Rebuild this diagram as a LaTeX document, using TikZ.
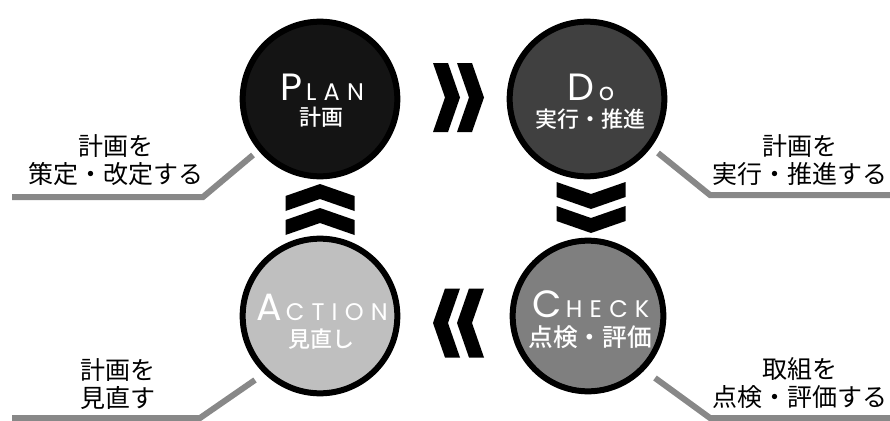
\documentclass[tikz,border=0pt]{standalone}
\usepackage{fontspec}
\setmainfont{Poppins}
\newfontfamily\jp{Noto Sans CJK JP}
\newfontfamily\jpm{Noto Sans CJK JP Medium}
\definecolor{cplan}{HTML}{141414}
\definecolor{cdo}{HTML}{404040}
\definecolor{ccheck}{HTML}{7F7F7F}
\definecolor{caction}{HTML}{BFBFBF}
\definecolor{lgray}{HTML}{888888}
\newcommand{\capword}[2]{{\fontsize{28.5}{30}\selectfont #1}\hspace{3pt}{\fontsize{18}{20}\selectfont\addfontfeature{LetterSpace=30}#2}}
\tikzset{
  ring/.style={circle, draw=black, line width=4.5pt, minimum size=116pt, inner sep=0pt},
  latin/.style={text=white, anchor=base, inner sep=0pt},
  jptxt/.style={text=white, font=\jpm\fontsize{16.5}{18}\selectfont, inner sep=0pt, text height=0.8em, text depth=0.05em},
  label/.style={font=\jp\fontsize{18.75}{21}\selectfont, align=center, inner sep=0pt, text=black},
  leader/.style={draw=lgray, line width=4.5pt},
  chev/.pic={\fill[black] (-13.5,-34.5) -- (1.5,-34.5) -- (13.5,0) -- (1.5,34.5) -- (-13.5,34.5) -- (-1.5,0) -- cycle;}
}
\begin{document}
\begin{tikzpicture}[x=0.75pt,y=-0.75pt]
\useasboundingbox[fill=white] (0,0) rectangle (890,421);
% circles
\node[ring, fill=cplan] (plan) at (320,99) {};
\node[ring, fill=cdo] (do) at (587,99) {};
\node[ring, fill=caction] (action) at (320,316) {};
\node[ring, fill=ccheck, minimum size=113pt] (check) at (588,316) {};
% circle texts
\node[latin] (planL) at (322,100) {\capword{P}{LAN}};
\node[jptxt] (planJ) at (321,120) {計画};
\node[latin] (doL) at (591,100) {\capword{D}{o}};
\node[jptxt] (doJ) at (590,122) {実行・推進};
\node[latin] (actionL) at (322,320) {\capword{A}{CTION}};
\node[jptxt] (actionJ) at (321,342) {見直し};
\node[latin] (checkL) at (591,317) {\capword{C}{HECK}};
\node[jptxt, font=\jpm\fontsize{18.5}{20}\selectfont] (checkJ) at (590,341) {点検・評価};
% chevrons
\pic at (446.5,97.5) {chev};
\pic at (470.5,97.5) {chev};
\pic[rotate=180] at (446.5,323) {chev};
\pic[rotate=180] at (470.5,323) {chev};
\pic[rotate=-90] at (591,195.5) {chev};
\pic[rotate=-90] at (591,219.5) {chev};
\pic[rotate=90] at (320,197.5) {chev};
\pic[rotate=90] at (320,221.5) {chev};
% leader lines
\coordinate (tl1) at (12,197); \coordinate (tl2) at (203,197); \coordinate (tl3) at (253,155);
\coordinate (tr1) at (658,153); \coordinate (tr2) at (710,195); \coordinate (tr3) at (890,195);
\coordinate (bl1) at (12,418); \coordinate (bl2) at (200,418); \coordinate (bl3) at (255,380);
\coordinate (br1) at (655,378); \coordinate (br2) at (710,418); \coordinate (br3) at (890,418);
\draw[leader] (tl1) -- (tl2) -- (tl3);
\draw[leader] (tr1) -- (tr2) -- (tr3);
\draw[leader] (bl1) -- (bl2) -- (bl3);
\draw[leader] (br1) -- (br2) -- (br3);
% labels
\node[label] (lplan) at (116,160) {計画を\\策定・改定する};
\node[label] (ldo) at (800,160) {計画を\\実行・推進する};
\node[label] (laction) at (118,384) {計画を\\見直す};
\node[label] (lcheck) at (800,383) {取組を\\点検・評価する};
\end{tikzpicture}
\end{document}
